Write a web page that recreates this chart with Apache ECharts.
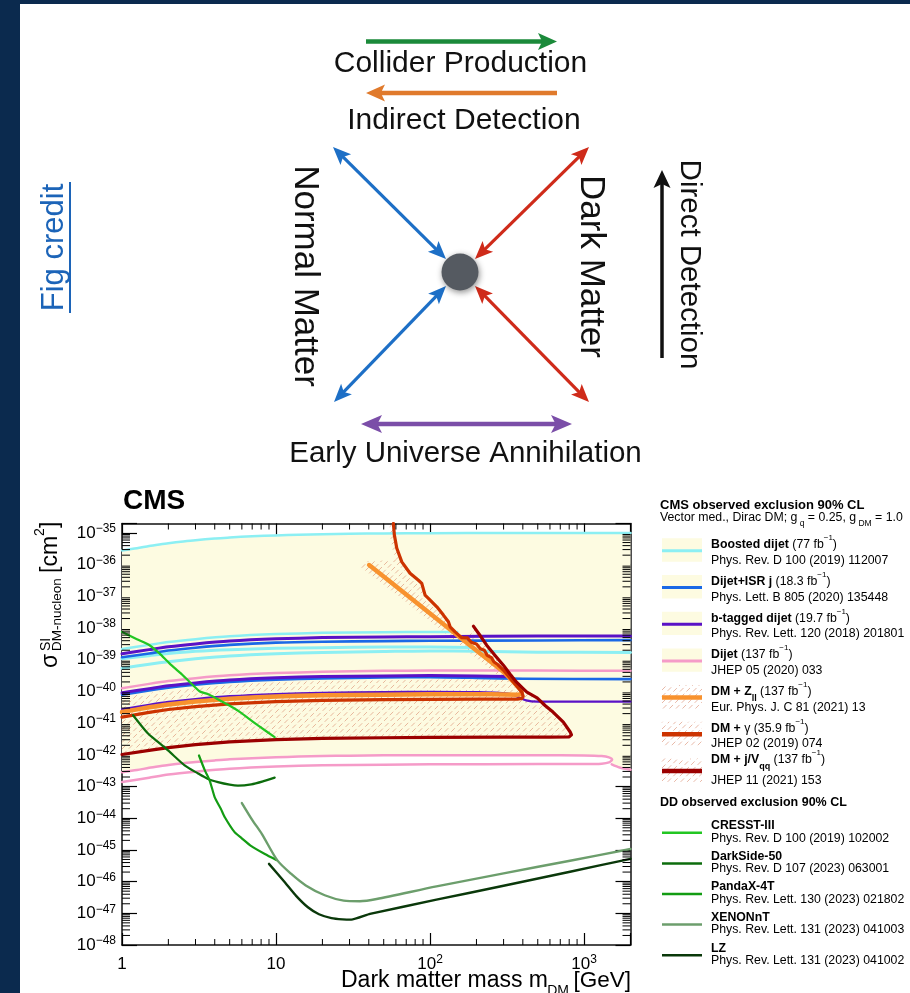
<!DOCTYPE html>
<html><head><meta charset="utf-8">
<script src="https://cdn.jsdelivr.net/npm/echarts@6/dist/echarts.min.js"></script>
<style>html,body{margin:0;padding:0;background:#fff}#c{width:910px;height:993px}</style>
</head><body><div id="c"></div>
<script>
// ---------------- DATA (x = dark matter mass [GeV], y = log10 of sigma [cm^2]) ----------------
const xTickValues = [1, 10, 100, 1000];
const xMinorTicks = [2,3,4,5,6,7,8,9,20,30,40,50,60,70,80,90,200,300,400,500,600,700,800,900];
const yTickExponents = [-48,-47,-46,-45,-44,-43,-42,-41,-40,-39,-38,-37,-36,-35];
const minorMultipliers = [2,3,4,5,6,7,8,9];

// Boosted dijet (77 fb-1)
const boostedTop = [[1,-35.55],[1.25,-35.48],[1.5,-35.41],[1.75,-35.36],[2,-35.32],[2.5,-35.265],[3,-35.225],[4,-35.175],[5,-35.14],[7,-35.105],[10,-35.075],[14,-35.055],[20,-35.04],[30,-35.025],[50,-35.015],[100,-35.008],[300,-35.0],[2000,-35.0]];
const boostedMidA = [[1,-38.66],[1.5,-38.53],[2,-38.44],[3,-38.35],[5,-38.26],[10,-38.19],[20,-38.15],[50,-38.13],[100,-38.12],[150,-38.12]];
const boostedMidB = [[1,-38.97],[1.5,-38.87],[2,-38.80],[3,-38.73],[5,-38.68],[10,-38.64],[20,-38.62],[50,-38.60],[100,-38.60],[190,-38.61]];
const boostedLow = [[1,-39.27],[1.5,-39.14],[2,-39.06],[3,-38.97],[5,-38.88],[10,-38.81],[20,-38.77],[50,-38.74],[100,-38.72],[200,-38.73],[500,-38.76],[2000,-38.77]];
// Dijet+ISR j (18.3 fb-1)
const isrUpper = [[1,-38.92],[1.5,-38.80],[2,-38.71],[3,-38.62],[5,-38.53],[10,-38.46],[20,-38.43],[50,-38.41],[100,-38.40],[500,-38.39],[2000,-38.38]];
const isrLower = [[1,-40.10],[1.5,-39.97],[2,-39.88],[3,-39.79],[5,-39.70],[10,-39.63],[20,-39.59],[50,-39.56],[100,-39.55],[200,-39.57],[400,-39.60],[2000,-39.61]];
// b-tagged dijet (19.7 fb-1)
const btagUpper = [[1,-38.81],[1.5,-38.68],[2,-38.59],[3,-38.50],[5,-38.41],[10,-38.34],[20,-38.30],[50,-38.28],[100,-38.27],[500,-38.25],[2000,-38.25]];
const btagMiddle = [[1,-40.04],[1.5,-39.91],[2,-39.82],[3,-39.73],[5,-39.64],[10,-39.57],[20,-39.53],[50,-39.51],[100,-39.50],[200,-39.51],[320,-39.53]];
const btagLower = [[1,-40.56],[1.5,-40.42],[2,-40.33],[3,-40.24],[5,-40.15],[10,-40.08],[20,-40.04],[50,-40.02],[100,-40.01],[200,-40.02],[330,-40.08],[420,-40.28],[500,-40.32],[2000,-40.32]];
// Dijet (137 fb-1)
const dijetUpper = [[1,-39.90],[1.5,-39.76],[2,-39.67],[3,-39.58],[5,-39.49],[10,-39.42],[20,-39.38],[50,-39.35],[100,-39.34],[500,-39.34],[2000,-39.35]];
const dijetLoopUpper = [[1,-42.55],[1.25,-42.48],[1.5,-42.41],[1.75,-42.36],[2,-42.32],[2.5,-42.265],[3,-42.225],[4,-42.175],[5,-42.14],[7,-42.105],[10,-42.075],[14,-42.055],[20,-42.04],[30,-42.025],[50,-42.015],[100,-42.01],[500,-42.01],[1000,-42.02],[1300,-42.04],[1450,-42.08],[1520,-42.15]];
const dijetLoopLower = [[1450,-42.24],[1300,-42.28],[1000,-42.29],[500,-42.29],[100,-42.30],[50,-42.31],[20,-42.33],[10,-42.37],[5,-42.44],[3,-42.53],[2,-42.62],[1.5,-42.72],[1,-42.86]];
const dijetTail = [[1510,-42.30],[1700,-42.40],[2000,-42.47]];
// DM + Zll (137 fb-1)
const dmZll = [[40.2,-36.01],[100,-37.54],[200,-38.71],[300,-39.39],[372,-39.85],[392,-39.98],[390,-40.07],[370,-40.10],[250,-40.09],[100,-40.09],[50,-40.10],[20,-40.12],[10,-40.16],[5,-40.23],[3,-40.32],[2,-40.41],[1.5,-40.50],[1,-40.65]];
// DM + gamma (35.9 fb-1)
const dmGamma = [[57.8,-34.70],[58.6,-35.06],[60.8,-35.48],[65.5,-35.91],[74.1,-36.27],[84,-36.49],[88.3,-36.59],[92.8,-36.96],[97.5,-37.06],[110.6,-37.33],[122,-37.59],[131.5,-37.80],[134.9,-37.96],[145.3,-38.12],[160,-38.30],[175,-38.31],[185,-38.45],[200,-38.50],[212,-38.65],[225,-38.70],[235,-38.86],[250,-38.93],[260,-39.07],[275,-39.15],[300,-39.33],[347,-39.70],[394,-40.02],[402,-40.15],[395,-40.22],[370,-40.24],[200,-40.24],[100,-40.25],[50,-40.26],[20,-40.28],[10,-40.32],[5,-40.39],[3,-40.48],[2,-40.57],[1.5,-40.66],[1,-40.81]];
// outer edge of the hatched band of DM+Zll / DM+gamma
const zgHatchEdge = [[54.5,-34.70],[55,-35.06],[57,-35.48],[60,-35.85],[36,-35.9],[35,-36.05],[63,-37.0],[114,-38.0],[207,-39.0],[299,-39.62],[150,-39.62],[50,-39.65],[20,-39.67],[10,-39.71],[5,-39.78],[3,-39.87],[2,-39.96],[1.5,-40.05],[1,-40.18]];
// DM + j/Vqq (137 fb-1)
const dmJV = [[191,-37.94],[210,-38.22],[233,-38.54],[265,-38.87],[299,-39.17],[330,-39.45],[363,-39.70],[402,-39.91],[425,-40.02],[495,-40.20],[560,-40.45],[628,-40.65],[733,-40.97],[812,-41.28],[828,-41.37],[800,-41.43],[600,-41.44],[300,-41.44],[100,-41.45],[50,-41.46],[20,-41.48],[10,-41.52],[5,-41.59],[3,-41.68],[2,-41.77],[1.5,-41.86],[1,-41.99]];
// Direct detection
const cresst = [[1,-38.12],[1.25,-38.35],[1.51,-38.54],[1.75,-38.80],[2.04,-39.12],[2.4,-39.42],[2.75,-39.70],[3.2,-40.0],[3.6,-40.08],[4.1,-40.22],[4.88,-40.42],[5.84,-40.65],[6.5,-40.82],[7.63,-41.07],[9.8,-41.44]];
const darkside = [[1.18,-40.75],[1.475,-41.33],[1.67,-41.55],[1.99,-41.86],[2.55,-42.33],[3.1,-42.58],[3.62,-42.76],[4.2,-42.86],[5,-42.94],[5.66,-42.97],[6.91,-42.93],[8.3,-42.83],[9.8,-42.72]];
const pandax = [[3.16,-42.02],[3.45,-42.49],[3.71,-42.81],[4.0,-43.34],[4.38,-43.70],[4.65,-43.97],[5.38,-44.44],[5.95,-44.62],[6.91,-44.88],[8.46,-45.13],[10.05,-45.32]];
const xenonnt = [[6.0,-43.52],[7.0,-44.05],[8.1,-44.50],[10.2,-45.33],[12.5,-45.75],[15.6,-46.12],[20.7,-46.43],[27.5,-46.60],[35,-46.62],[45,-46.55],[110,-46.15],[300,-45.74],[810,-45.34],[2000,-44.97]];
const lz = [[9.0,-45.44],[11.4,-46.02],[13.5,-46.45],[16.1,-46.81],[19,-47.03],[22.9,-47.15],[27,-47.19],[30.8,-47.20],[40.7,-47.02],[110,-46.57],[300,-46.13],[810,-45.69],[2000,-45.28]];

// ---------------- STYLE ----------------
const FONT = "'Liberation Sans', Arial, Helvetica, sans-serif";
const NAVY = '#0b2a4e';
const X_MIN = 1, X_MAX = 2000, Y_MIN = -48, Y_MAX = -34.7;
const C = {
  cyan:'#8ceff3', blue:'#1a68e6', purple:'#5a12c6', pink:'#f59bc8', orange:'#f8922e',
  red:'#cc3300', darkred:'#9b0000', cresst:'#22c622', darkside:'#0c6c0c', pandax:'#139c13',
  xenon:'#6c9e6c', lz:'#0a380a', fill:'#fdfbe1', hatch:'rgba(214,128,96,0.55)'
};
const HATCH_STEP = 6.5;

// diagonal "/" hatch strokes clipped to a polygon given in pixel coordinates
function hatchLines(pts, step, color, width) {
  let minC = Infinity, maxC = -Infinity;
  pts.forEach(p => { const c = p[0] + p[1]; if (c < minC) minC = c; if (c > maxC) maxC = c; });
  const segs = [];
  for (let c = Math.ceil(minC / step) * step; c <= maxC; c += step) {
    const xs = [];
    for (let i = 0; i < pts.length; i++) {
      const p = pts[i], q = pts[(i + 1) % pts.length];
      const fp = p[0] + p[1] - c, fq = q[0] + q[1] - c;
      if ((fp < 0) !== (fq < 0)) { const t = fp / (fp - fq); xs.push(p[0] + t * (q[0] - p[0])); }
    }
    xs.sort((a, b) => a - b);
    for (let k = 0; k + 1 < xs.length; k += 2) {
      segs.push({type:'line', silent:true, shape:{x1:xs[k], y1:c - xs[k], x2:xs[k+1], y2:c - xs[k+1]},
        style:{stroke:color, lineWidth:width, lineDash:[5, 3], fill:null}});
    }
  }
  return segs;
}

function lineS(name, data, color, width, z, smooth) {
  return {type:'line', name, data, symbol:'none', showSymbol:false, silent:true, z,
    smooth: smooth === undefined ? 0.25 : smooth,
    lineStyle:{color, width, cap:'round', join:'round'}, itemStyle:{color}, clip:true};
}
function polyS(name, pts, fill, z) {
  return {type:'custom', name, silent:true, z, data: pts, encode:{x:0, y:1},
    renderItem: function (params, api) {
      if (params.dataIndex !== 0) return null;
      return {type:'polygon', shape:{points: pts.map(p => api.coord(p))}, style:{fill: fill}};
    }};
}
function hatchS(name, pts, z) {
  return {type:'custom', name, silent:true, z, data: pts, encode:{x:0, y:1},
    renderItem: function (params, api) {
      if (params.dataIndex !== 0) return null;
      return {type:'group', children: hatchLines(pts.map(p => api.coord(p)), HATCH_STEP, C.hatch, 1)};
    }};
}

// polygons built from the curves
const yellowPoly = boostedTop.concat(dijetTail.slice().reverse(), dijetLoopUpper.slice().reverse());
const hatchJV = dmJV.concat(dmGamma.slice(15).reverse());
const hatchZG = zgHatchEdge.concat(dmGamma.slice().reverse());

const yMinorVals = [];
yTickExponents.forEach(n => minorMultipliers.forEach(k => { const v = n + Math.log10(k); if (v < Y_MAX) yMinorVals.push(v); }));

const tickSeriesX = {type:'custom', silent:true, z:30, data: xMinorTicks.map(v => [v, Y_MIN]), encode:{x:0,y:1},
  renderItem: function (p, api) {
    const v = api.value(0), b = api.coord([v, Y_MIN]), t = api.coord([v, Y_MAX]);
    return {type:'group', children:[
      {type:'line', shape:{x1:b[0], y1:b[1], x2:b[0], y2:b[1]-6}, style:{stroke:'#000', lineWidth:1}},
      {type:'line', shape:{x1:t[0], y1:t[1], x2:t[0], y2:t[1]+6}, style:{stroke:'#000', lineWidth:1}}]};
  }};
const tickSeriesY = {type:'custom', silent:true, z:30, data: yMinorVals.map(v => [X_MIN, v]), encode:{x:0,y:1},
  renderItem: function (p, api) {
    const v = api.value(1), l = api.coord([X_MIN, v]), r = api.coord([X_MAX, v]);
    return {type:'group', children:[
      {type:'line', shape:{x1:l[0], y1:l[1], x2:l[0]+8, y2:l[1]}, style:{stroke:'#000', lineWidth:1}},
      {type:'line', shape:{x1:r[0], y1:r[1], x2:r[0]-8, y2:r[1]}, style:{stroke:'#000', lineWidth:1}}]};
  }};

function xLabel(v) {
  const e = Math.log10(v), n = Math.round(e);
  if (Math.abs(e - n) > 1e-6 || xTickValues.indexOf(Math.pow(10, n)) < 0) return '';
  if (n === 0) return '{b|1}';
  if (n === 1) return '{b|10}';
  return '{b|10}{s|' + n + '}';
}
function yLabel(v) {
  const n = Math.round(v);
  if (Math.abs(v - n) > 1e-6 || yTickExponents.indexOf(n) < 0) return '';
  return '{b|10}{s|\u2212' + Math.abs(n) + '}';
}
const axLine = {show:true, onZero:false, lineStyle:{color:'#111', width:1.5}};
const labRich = {b:{fontSize:17, fontFamily:FONT, color:'#000', lineHeight:20}, s:{fontSize:12, fontFamily:FONT, color:'#000', lineHeight:12, verticalAlign:'top'}};

// ---------------- GRAPHIC (diagram, titles, legend) ----------------
const G = [];
G.push({type:'rect', silent:true, shape:{x:0, y:0, width:20, height:993}, style:{fill:NAVY}});
G.push({type:'rect', silent:true, shape:{x:0, y:0, width:910, height:4}, style:{fill:NAVY}});

function arrow(x1, y1, x2, y2, color, w, hl, hw, headStart, headEnd) {
  const dx = x2-x1, dy = y2-y1, len = Math.hypot(dx, dy), ux = dx/len, uy = dy/len, nx = -uy, ny = ux;
  const sx = headStart ? x1 + ux*hl*0.7 : x1, sy = headStart ? y1 + uy*hl*0.7 : y1;
  const ex = headEnd ? x2 - ux*hl*0.7 : x2, ey = headEnd ? y2 - uy*hl*0.7 : y2;
  G.push({type:'line', silent:true, shape:{x1:sx, y1:sy, x2:ex, y2:ey}, style:{stroke:color, lineWidth:w}});
  function head(tx, ty, dxh, dyh) {
    const bx = tx - dxh*hl, by = ty - dyh*hl, mx = tx - dxh*hl*0.78, my = ty - dyh*hl*0.78;
    G.push({type:'polygon', silent:true, shape:{points:[[tx,ty],[bx+nx*hw/2, by+ny*hw/2],[mx,my],[bx-nx*hw/2, by-ny*hw/2]]}, style:{fill:color}});
  }
  if (headEnd) head(x2, y2, ux, uy);
  if (headStart) head(x1, y1, -ux, -uy);
}
arrow(366, 41.5, 557, 41.5, '#1b8a3a', 4.5, 19, 17, false, true);
arrow(557, 93, 366, 93, '#e07a2c', 4.5, 19, 17, false, true);
arrow(333, 147, 446, 259, '#1d6fc6', 3.2, 18, 15, true, true);
arrow(446, 286, 334, 402, '#1d6fc6', 3.2, 18, 15, true, true);
arrow(589, 147, 475, 259, '#cf2b1a', 3.2, 18, 15, true, true);
arrow(475, 286, 589, 402, '#cf2b1a', 3.2, 18, 15, true, true);
arrow(662, 358, 662, 170, '#111111', 3.5, 18, 17, false, true);
arrow(361, 424, 572, 424, '#7b4ea8', 4.5, 21, 18, true, true);
G.push({type:'circle', silent:true, shape:{cx:460, cy:272, r:18.5}, style:{fill:'#555a61', shadowBlur:6, shadowColor:'rgba(0,0,0,0.45)', shadowOffsetX:1, shadowOffsetY:2}});

function T(x, y, text, size, opts) {
  opts = opts || {};
  G.push({type:'text', silent:true, x, y, rotation: opts.rot || 0,
    style:{text, fontSize:size, fontFamily:FONT, fontWeight: opts.bold ? 'bold' : 'normal', fill: opts.color || '#111',
      align: opts.align || 'center', verticalAlign: opts.va || 'middle', textAlign: opts.align || 'center', textVerticalAlign: opts.va || 'middle'}});
}
T(460.5, 63.5, 'Collider Production', 30);
T(464, 120.5, 'Indirect Detection', 30);
T(465.5, 453.5, 'Early Universe Annihilation', 29.5);
T(304.5, 276, 'Normal Matter', 35, {rot:-Math.PI/2});
T(590.5, 266.5, 'Dark Matter', 35, {rot:-Math.PI/2});
T(689, 264.5, 'Direct Detection', 29.5, {rot:-Math.PI/2});
T(54.5, 247.5, 'Fig credit', 31, {rot:Math.PI/2, color:'#1c64b8'});
G.push({type:'rect', silent:true, shape:{x:69, y:182, width:2, height:131}, style:{fill:'#1c64b8'}});

// CMS label
T(123, 501.5, 'CMS', 28, {bold:true, align:'left', color:'#000'});
// y axis title (rotated)
const R = Math.PI/2;
T(51, 668, '\u03c3', 23, {rot:R, align:'left', color:'#000'});
T(46, 651, 'SI', 14, {rot:R, align:'left', color:'#000'});
T(57, 651, 'DM-nucleon', 13.5, {rot:R, align:'left', color:'#000'});
T(51, 573, '[cm', 23, {rot:R, align:'left', color:'#000'});
T(40.5, 536, '2', 14, {rot:R, align:'left', color:'#000'});
T(51, 528, ']', 23, {rot:R, align:'left', color:'#000'});
// x axis title
T(631, 980.8, '[GeV]', 22.5, {align:'right', color:'#000'});
T(569, 991, 'DM', 14, {align:'right', color:'#000'});
T(548, 980.8, 'Dark matter mass m', 23, {align:'right', color:'#000'});

// legend
const LF = 12.3;
const richL = {
  r:{fontSize:LF, fontFamily:FONT, color:'#000', lineHeight:22},
  b:{fontSize:LF, fontFamily:FONT, color:'#000', fontWeight:'bold', lineHeight:22},
  s:{fontSize:8, fontFamily:FONT, color:'#000', lineHeight:9, verticalAlign:'top'},
  bs:{fontSize:9, fontFamily:FONT, color:'#000', fontWeight:'bold', lineHeight:9, verticalAlign:'bottom'},
  u:{fontSize:8.5, fontFamily:FONT, color:'#000', lineHeight:9, verticalAlign:'bottom'}
};
function RT(x, y, text) {
  G.push({type:'text', silent:true, x, y, style:{text, rich:richL, fontSize:LF, fontFamily:FONT, fill:'#000', align:'left', verticalAlign:'middle', textAlign:'left', textVerticalAlign:'middle'}});
}
T(660, 505, 'CMS observed exclusion 90% CL', 13, {bold:true, align:'left', color:'#000'});
RT(660, 517.5, '{r|Vector med., Dirac DM; g}{u| q}{r| = 0.25, g}{u| DM}{r| = 1.0}');
const cmsLegend = [
  {title:'{b|Boosted dijet}{r| (77 fb}{s|\u22121}{r|)}', ref:'Phys. Rev. D 100 (2019) 112007', color:C.cyan, hatch:false},
  {title:'{b|Dijet+ISR j}{r| (18.3 fb}{s|\u22121}{r|)}', ref:'Phys. Lett. B 805 (2020) 135448', color:C.blue, hatch:false},
  {title:'{b|b-tagged dijet}{r| (19.7 fb}{s|\u22121}{r|)}', ref:'Phys. Rev. Lett. 120 (2018) 201801', color:C.purple, hatch:false},
  {title:'{b|Dijet}{r| (137 fb}{s|\u22121}{r|)}', ref:'JHEP 05 (2020) 033', color:C.pink, hatch:false},
  {title:'{b|DM + Z}{bs|ll}{r| (137 fb}{s|\u22121}{r|)}', ref:'Eur. Phys. J. C 81 (2021) 13', color:C.orange, hatch:true},
  {title:'{b|DM + }{r|\u03b3 (35.9 fb}{s|\u22121}{r|)}', ref:'JHEP 02 (2019) 074', color:C.red, hatch:true},
  {title:'{b|DM + j/V}{bs|qq}{r| (137 fb}{s|\u22121}{r|)}', ref:'JHEP 11 (2021) 153', color:C.darkred, hatch:true}
];
cmsLegend.forEach((e, i) => {
  const top = 538.3 + i*36.7;
  if (e.hatch) {
    hatchLines([[662, top], [702, top], [702, top + 23.4], [662, top + 23.4]], HATCH_STEP, C.hatch, 1).forEach(s => G.push(s));
  } else {
    G.push({type:'rect', silent:true, shape:{x:662, y:top, width:40, height:23.4}, style:{fill:C.fill}});
  }
  G.push({type:'line', silent:true, shape:{x1:662, y1:top+12.5, x2:702, y2:top+12.5}, style:{stroke:e.color, lineWidth: e.hatch ? 4.5 : 3}});
  RT(711, i === 6 ? 760 : top + 6.7, e.title);
  T(711, top + 22.2, e.ref, LF, {align:'left', color:'#000'});
});
T(660, 802.5, 'DD observed exclusion 90% CL', 12.5, {bold:true, align:'left', color:'#000'});
const ddLegend = [
  {name:'CRESST-III', ref:'Phys. Rev. D 100 (2019) 102002', color:C.cresst},
  {name:'DarkSide-50', ref:'Phys. Rev. D 107 (2023) 063001', color:C.darkside},
  {name:'PandaX-4T', ref:'Phys. Rev. Lett. 130 (2023) 021802', color:C.pandax},
  {name:'XENONnT', ref:'Phys. Rev. Lett. 131 (2023) 041003', color:C.xenon},
  {name:'LZ', ref:'Phys. Rev. Lett. 131 (2023) 041002', color:C.lz}
];
ddLegend.forEach((e, j) => {
  const y = 825.8 + j*30.6;
  G.push({type:'line', silent:true, shape:{x1:662, y1:y+7, x2:702, y2:y+7}, style:{stroke:e.color, lineWidth:2.5}});
  T(711, y, e.name, LF, {bold:true, align:'left', color:'#000'});
  T(711, y + 12.5, e.ref, LF, {align:'left', color:'#000'});
});

// ---------------- CHART ----------------
const chart = echarts.init(document.getElementById('c'), null, {renderer:'canvas'});
chart.setOption({
  animation:false,
  backgroundColor:'#ffffff',
  textStyle:{fontFamily:FONT},
  grid:{left:122, top:523.5, width:508.5, height:421.5, containLabel:false, outerBoundsMode:'none'},
  xAxis:[
    {type:'log', logBase:10, min:X_MIN, max:X_MAX, position:'bottom', axisLine:axLine,
     axisTick:{show:true, inside:true, length:12, lineStyle:{color:'#000', width:1.2}},
     splitLine:{show:false}, minorTick:{show:false}, minorSplitLine:{show:false},
     axisLabel:{show:true, margin:9, formatter:xLabel, rich:labRich, color:'#000', showMinLabel:true, showMaxLabel:true}},
    {type:'log', logBase:10, min:X_MIN, max:X_MAX, position:'top', axisLine:axLine,
     axisTick:{show:true, inside:true, length:11, lineStyle:{color:'#000', width:1.2}},
     splitLine:{show:false}, axisLabel:{show:false}}
  ],
  yAxis:[
    {type:'value', min:Y_MIN, max:Y_MAX, interval:1, position:'left', axisLine:axLine,
     axisTick:{show:true, inside:true, length:15, lineStyle:{color:'#000', width:1.2}},
     splitLine:{show:false}, axisLabel:{show:true, margin:6, formatter:yLabel, rich:labRich, color:'#000', showMinLabel:true, showMaxLabel:true}},
    {type:'value', min:Y_MIN, max:Y_MAX, interval:1, position:'right', axisLine:axLine,
     axisTick:{show:true, inside:true, length:15, lineStyle:{color:'#000', width:1.2}},
     splitLine:{show:false}, axisLabel:{show:false}}
  ],
  graphic:{elements:G},
  series:[
    polyS('excluded region (dijet searches)', yellowPoly, C.fill, 1),
    hatchS('DM + j/Vqq hatch', hatchJV, 2),
    hatchS('DM + Zll / gamma hatch', hatchZG, 2),
    lineS('Boosted dijet', boostedTop, C.cyan, 2.5, 3),
    lineS('Boosted dijet', boostedMidA, C.cyan, 2.5, 3),
    lineS('Boosted dijet', boostedMidB, C.cyan, 3, 3),
    lineS('Boosted dijet', boostedLow, C.cyan, 3, 3),
    lineS('Dijet', dijetUpper, C.pink, 2.5, 4),
    lineS('Dijet', dijetLoopUpper.concat(dijetLoopLower), C.pink, 2.5, 4),
    lineS('Dijet', dijetTail, C.pink, 2.5, 4),
    lineS('Dijet+ISR j', isrUpper, C.blue, 2.6, 5),
    lineS('Dijet+ISR j', isrLower, C.blue, 2.6, 5),
    lineS('b-tagged dijet', btagUpper, C.purple, 3, 6),
    lineS('b-tagged dijet', btagMiddle, C.purple, 3, 6),
    lineS('b-tagged dijet', btagLower, C.purple, 2.2, 6),
    lineS('DM + Zll', dmZll, C.orange, 4.5, 7, 0.15),
    lineS('DM + gamma', dmGamma, C.red, 3.2, 8, 0),
    lineS('DM + j/Vqq', dmJV, C.darkred, 3.2, 9, 0),
    lineS('CRESST-III', cresst, C.cresst, 2.2, 10, 0.2),
    lineS('DarkSide-50', darkside, C.darkside, 2.2, 10),
    lineS('PandaX-4T', pandax, C.pandax, 2.2, 10, 0.2),
    lineS('XENONnT', xenonnt, C.xenon, 2.4, 10),
    lineS('LZ', lz, C.lz, 2.4, 10, 0.15),
    tickSeriesX, tickSeriesY
  ]
});
</script>
</body></html>
